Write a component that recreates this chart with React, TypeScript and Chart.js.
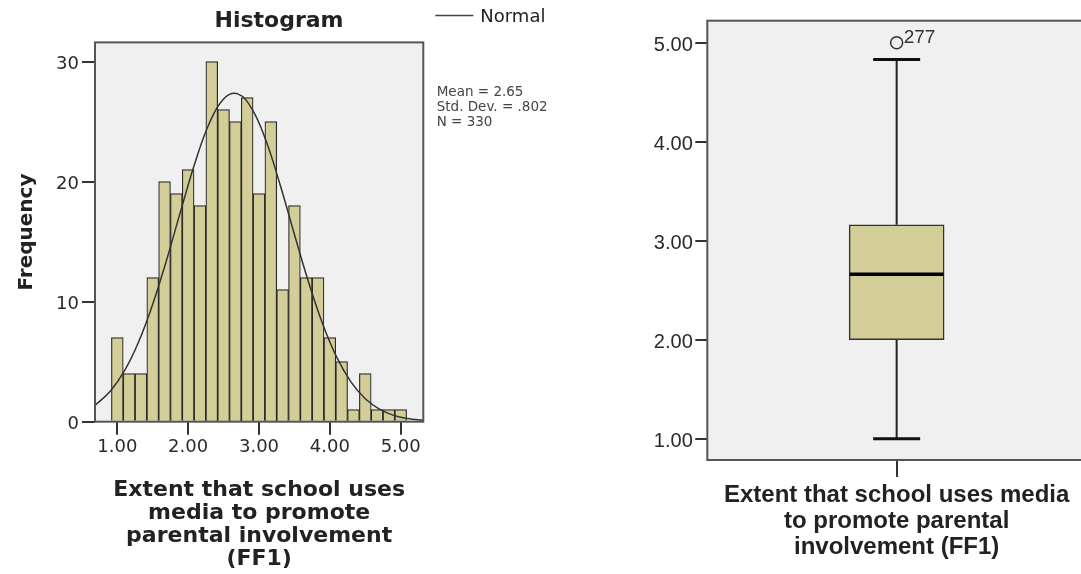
import React, { useEffect, useRef } from 'react';
import { Chart, registerables } from 'chart.js';

Chart.register(...registerables);

// ---------- Histogram data ----------
const BIN_CENTERS = [
  1.0, 1.1667, 1.3333, 1.5, 1.6667, 1.8333, 2.0, 2.1667, 2.3333, 2.5, 2.6667, 2.8333, 3.0,
  3.1667, 3.3333, 3.5, 3.6667, 3.8333, 4.0, 4.1667, 4.3333, 4.5, 4.6667, 4.8333, 5.0,
];
const FREQUENCIES = [7, 4, 4, 12, 20, 19, 21, 18, 30, 26, 25, 27, 19, 25, 11, 18, 12, 12, 7, 5, 1, 4, 1, 1, 1];
const NORMAL_X = [
  0.685, 0.9, 1.1, 1.3, 1.5, 1.7, 1.9, 2.1, 2.3, 2.5, 2.7, 2.9, 3.1, 3.3, 3.5, 3.7, 3.9, 4.1, 4.3, 4.5,
  4.7, 4.9, 5.1, 5.319,
];
const NORMAL_Y = [
  1.36, 2.53, 4.23, 6.64, 9.79, 13.56, 17.67, 21.63, 24.88, 26.89, 27.31, 26.06, 23.38, 19.7, 15.6,
  11.61, 8.12, 5.34, 3.3, 1.91, 1.04, 0.53, 0.26, 0.11,
];
const HIST_X_TICKS = [1, 2, 3, 4, 5];
const HIST_Y_TICKS = [0, 10, 20, 30];
const HIST_TITLE = 'Histogram';
const HIST_Y_TITLE = 'Frequency';
const HIST_X_TITLE = ['Extent that school uses', 'media to promote', 'parental involvement', '(FF1)'];
const NORMAL_LABEL = 'Normal';
const STATS_LINES = ['Mean = 2.65', 'Std. Dev. = .802', 'N = 330'];

// ---------- Box plot data ----------
const BOX_CATEGORY = ['FF1'];
const BOX_MIN = 1.0;
const BOX_Q1 = 2.0;
const BOX_MEDIAN = 2.66;
const BOX_Q3 = 3.16;
const BOX_MAX = 4.83;
const OUTLIER_VALUE = 5.0;
const OUTLIER_LABEL = '277';
const BOX_Y_TICKS = [1, 2, 3, 4, 5];
const BOX_X_TITLE = ['Extent that school uses media', 'to promote parental', 'involvement (FF1)'];

const BAR_FILL = 'rgb(211,206,151)';
const PLOT_BG = '#f0f0f0';

const framePlugin = {
  id: 'frame',
  beforeDraw(chart: any) {
    const { ctx, chartArea: a } = chart;
    ctx.save();
    ctx.fillStyle = PLOT_BG;
    ctx.fillRect(a.left, a.top, a.right - a.left, a.bottom - a.top);
    ctx.restore();
  },
  afterDatasetsDraw(chart: any) {
    const { ctx, chartArea: a } = chart;
    ctx.save();
    ctx.strokeStyle = '#555';
    ctx.lineWidth = 2;
    ctx.strokeRect(a.left, a.top, a.right - a.left, a.bottom - a.top);
    ctx.restore();
  },
};

const histExtrasPlugin = {
  id: 'histExtras',
  afterDraw(chart: any) {
    const { ctx, chartArea: a } = chart;
    const lx = a.right + 12;
    ctx.save();
    ctx.strokeStyle = '#444';
    ctx.lineWidth = 1.5;
    ctx.beginPath();
    ctx.moveTo(lx, 15.5);
    ctx.lineTo(lx + 38, 15.5);
    ctx.stroke();
    ctx.fillStyle = '#222';
    ctx.textBaseline = 'middle';
    ctx.textAlign = 'left';
    ctx.font = '18px "DejaVu Sans"';
    ctx.fillText(chart.data.datasets[0].label, lx + 45, 17);
    ctx.font = '13.5px "DejaVu Sans"';
    ctx.fillStyle = '#444';
    STATS_LINES.forEach((t, i) => ctx.fillText(t, a.right + 13.4, 92 + i * 15));
    ctx.restore();
  },
};

const outlierLabelPlugin = {
  id: 'outlierLabel',
  afterDatasetsDraw(chart: any) {
    const { ctx } = chart;
    const meta = chart.getDatasetMeta(5);
    const pt = meta.data[0];
    if (!pt) return;
    ctx.save();
    ctx.fillStyle = '#333';
    ctx.font = '19px "Liberation Sans", Arial';
    ctx.textBaseline = 'alphabetic';
    ctx.textAlign = 'left';
    ctx.fillText(OUTLIER_LABEL, pt.x + 7, pt.y);
    ctx.restore();
  },
};

export default function App() {
  const histRef = useRef<HTMLCanvasElement>(null);
  const boxRef = useRef<HTMLCanvasElement>(null);

  useEffect(() => {
    const histCanvas = histRef.current!;
    const boxCanvas = boxRef.current!;
    const HIST_W = 558;

    const hist = new Chart(histCanvas, {
      type: 'bar',
      data: {
        datasets: [
          {
            type: 'line',
            label: NORMAL_LABEL,
            data: NORMAL_X.map((x, i) => ({ x, y: NORMAL_Y[i] })),
            borderColor: '#333',
            borderWidth: 1.5,
            pointRadius: 0,
            tension: 0.4,
            fill: false,
            order: 0,
          } as any,
          {
            type: 'bar',
            label: 'Frequency',
            data: BIN_CENTERS.map((x, i) => ({ x, y: FREQUENCIES[i] })),
            backgroundColor: BAR_FILL,
            borderColor: '#2a2a2a',
            borderWidth: 1.2,
            barPercentage: 1,
            categoryPercentage: 1,
            order: 1,
          } as any,
        ],
      },
      options: {
        animation: false,
        responsive: false,
        events: [],
        layout: { autoPadding: false, padding: 0 },
        plugins: {
          legend: { display: false },
          tooltip: { enabled: false },
          title: {
            display: true,
            text: HIST_TITLE,
            fullSize: true,
            color: '#222',
            font: { family: '"DejaVu Sans"', size: 22, weight: 'bold', lineHeight: 1.2 },
            padding: { top: 8, bottom: 8 },
          },
        },
        scales: {
          x: {
            type: 'linear',
            min: 0.685,
            max: 5.319,
            offset: false,
            afterBuildTicks: (s: any) => {
              s.ticks = HIST_X_TICKS.map((v) => ({ value: v }));
            },
            afterFit: (s: any) => {
              s.height = 574 - 421.7;
            },
            ticks: {
              callback: (v: any) => Number(v).toFixed(2),
              color: '#2a2a2a',
              font: { family: '"DejaVu Sans"', size: 18 },
              padding: 2,
              maxRotation: 0,
              autoSkip: false,
            },
            grid: { offset: false, drawOnChartArea: false, drawTicks: true, tickLength: 13, color: '#333', lineWidth: 2 },
            border: { display: false },
            title: {
              display: true,
              text: HIST_X_TITLE,
              color: '#222',
              font: { family: '"DejaVu Sans"', size: 22, weight: 'bold', lineHeight: 1.05 },
              padding: { top: 0, bottom: 3 },
            },
          } as any,
          y: {
            type: 'linear',
            min: 0,
            max: 31.6,
            afterBuildTicks: (s: any) => {
              s.ticks = HIST_Y_TICKS.map((v) => ({ value: v }));
            },
            afterFit: (s: any) => {
              s.width = 95;
            },
            ticks: {
              color: '#2a2a2a',
              font: { family: '"DejaVu Sans"', size: 18 },
              padding: 3,
              labelOffset: 2.5,
            },
            grid: { drawOnChartArea: false, drawTicks: true, tickLength: 13, color: '#333', lineWidth: 2 },
            border: { display: false },
            title: {
              display: true,
              text: HIST_Y_TITLE,
              color: '#222',
              font: { family: '"DejaVu Sans"', size: 20, weight: 'bold', lineHeight: 1.2 },
              padding: { top: 14.4, bottom: 0 },
            },
          } as any,
          // empty right-hand gutter that holds the legend and statistics
          yGutter: {
            type: 'linear',
            position: 'right',
            display: true,
            min: 0,
            max: 1,
            afterFit: (s: any) => {
              s.width = HIST_W - 423.3;
            },
            ticks: { display: false },
            grid: { display: false, drawTicks: false },
            border: { display: false },
          } as any,
        },
      },
      plugins: [framePlugin, histExtrasPlugin],
    });

    const BOX_W = 490;
    const box = new Chart(boxCanvas, {
      type: 'bar',
      data: {
        labels: BOX_CATEGORY,
        datasets: [
          {
            type: 'bar',
            data: [[BOX_Q1, BOX_Q3]],
            backgroundColor: BAR_FILL,
            borderColor: '#333',
            borderWidth: 1.5,
            borderSkipped: false,
            barThickness: 95,
            order: 5,
          } as any,
          {
            type: 'line',
            data: [
              { x: BOX_CATEGORY[0], y: BOX_Q3 },
              { x: BOX_CATEGORY[0], y: BOX_MAX },
            ],
            borderColor: '#222',
            borderWidth: 2,
            pointRadius: 0,
            order: 6,
          } as any,
          {
            type: 'line',
            data: [
              { x: BOX_CATEGORY[0], y: BOX_MIN },
              { x: BOX_CATEGORY[0], y: BOX_Q1 },
            ],
            borderColor: '#222',
            borderWidth: 2,
            pointRadius: 0,
            order: 6,
          } as any,
          {
            type: 'line',
            data: [
              { x: BOX_CATEGORY[0], y: BOX_MAX },
              { x: BOX_CATEGORY[0], y: BOX_MIN },
            ],
            showLine: false,
            pointStyle: 'line',
            pointRadius: 23.5,
            borderWidth: 3,
            borderColor: '#111',
            order: 2,
          } as any,
          {
            type: 'line',
            data: [{ x: BOX_CATEGORY[0], y: BOX_MEDIAN }],
            showLine: false,
            pointStyle: 'line',
            pointRadius: 47,
            borderWidth: 3.5,
            borderColor: '#000',
            order: 1,
          } as any,
          {
            type: 'line',
            data: [{ x: BOX_CATEGORY[0], y: OUTLIER_VALUE }],
            showLine: false,
            pointStyle: 'circle',
            pointRadius: 6,
            borderWidth: 1.5,
            borderColor: '#333',
            backgroundColor: 'rgba(0,0,0,0)',
            order: 0,
          } as any,
        ],
      },
      options: {
        animation: false,
        responsive: false,
        events: [],
        layout: { autoPadding: false, padding: { left: 0, top: 20.7, right: BOX_W - 486, bottom: 0 } },
        plugins: { legend: { display: false }, tooltip: { enabled: false }, title: { display: false } },
        scales: {
          x: {
            type: 'category',
            offset: true,
            afterFit: (s: any) => {
              s.height = 574 - 460;
            },
            ticks: { display: false },
            grid: { offset: false, drawOnChartArea: false, drawTicks: true, tickLength: 17, color: '#333', lineWidth: 2 },
            border: { display: false },
            title: {
              display: true,
              text: BOX_X_TITLE,
              color: '#222',
              font: { family: '"Liberation Sans", Arial', size: 24, weight: 'bold', lineHeight: 1.096 },
              padding: { top: 0, bottom: 13 },
            },
          } as any,
          y: {
            type: 'linear',
            min: 0.785,
            max: 5.222,
            afterBuildTicks: (s: any) => {
              s.ticks = BOX_Y_TICKS.map((v) => ({ value: v }));
            },
            afterFit: (s: any) => {
              s.width = 107.3;
            },
            ticks: {
              callback: (v: any) => Number(v).toFixed(2),
              color: '#2a2a2a',
              font: { family: '"Liberation Sans", Arial', size: 20 },
              padding: 2.5,
              labelOffset: 2.5,
            },
            grid: { drawOnChartArea: false, drawTicks: true, tickLength: 12, color: '#333', lineWidth: 2 },
            border: { display: false },
          } as any,
        },
      },
      plugins: [framePlugin, outlierLabelPlugin],
    });

    return () => {
      hist.destroy();
      box.destroy();
    };
  }, []);

  return (
    <div
      style={{
        position: 'absolute',
        left: 0,
        top: 0,
        width: 1081,
        height: 574,
        overflow: 'hidden',
        background: '#fff',
      }}
    >
      <canvas ref={histRef} width={558} height={574} style={{ position: 'absolute', left: 0, top: 0 }} />
      <canvas ref={boxRef} width={490} height={574} style={{ position: 'absolute', left: 600, top: 0 }} />
    </div>
  );
}
